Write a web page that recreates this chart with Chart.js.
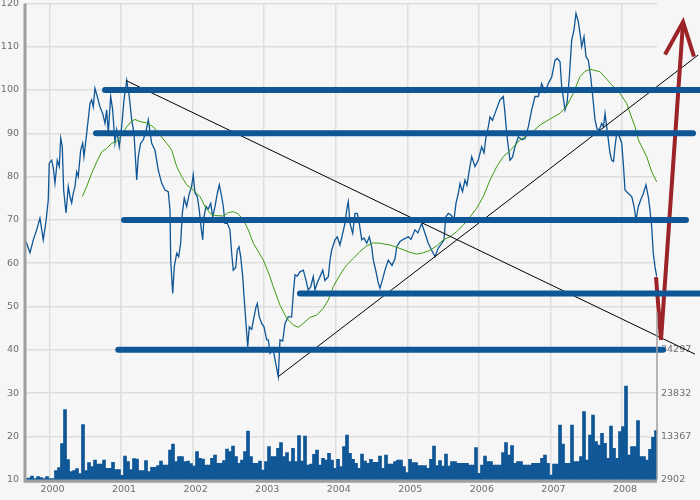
<!DOCTYPE html>
<html>
<head>
<meta charset="utf-8">
<script src="https://cdn.jsdelivr.net/npm/chart.js@4.4.0/dist/chart.umd.min.js"></script>
<style>
  html, body { margin: 0; padding: 0; background: #f6f6f6; }
  canvas { display: block; }
</style>
</head>
<body>
<canvas id="chart" width="700" height="500"></canvas>
<script>
// closing prices (decimal years)
const priceDates = [
  1999.672, 1999.728, 1999.774, 1999.821, 1999.867, 1999.913, 1999.951, 1999.983, 1999.997, 2000.031,
  2000.053, 2000.077, 2000.109, 2000.137, 2000.157, 2000.179, 2000.198, 2000.231, 2000.263, 2000.286,
  2000.310, 2000.333, 2000.356, 2000.380, 2000.402, 2000.436, 2000.464, 2000.482, 2000.520, 2000.566,
  2000.590, 2000.612, 2000.636, 2000.668, 2000.706, 2000.743, 2000.776, 2000.799, 2000.822, 2000.855,
  2000.883, 2000.915, 2000.939, 2000.975, 2001.009, 2001.041, 2001.079, 2001.115, 2001.149, 2001.181,
  2001.219, 2001.241, 2001.274, 2001.311, 2001.348, 2001.381, 2001.428, 2001.474, 2001.520, 2001.568,
  2001.614, 2001.660, 2001.684, 2001.694, 2001.722, 2001.744, 2001.778, 2001.805, 2001.833, 2001.856,
  2001.884, 2001.917, 2001.954, 2001.984, 2002.009, 2002.033, 2002.065, 2002.093, 2002.117, 2002.141,
  2002.159, 2002.187, 2002.219, 2002.253, 2002.281, 2002.313, 2002.345, 2002.373, 2002.406, 2002.429,
  2002.452, 2002.485, 2002.522, 2002.546, 2002.568, 2002.602, 2002.624, 2002.648, 2002.672, 2002.700,
  2002.722, 2002.746, 2002.770, 2002.792, 2002.826, 2002.858, 2002.886, 2002.904, 2002.932, 2002.965,
  2002.997, 2003.035, 2003.058, 2003.081, 2003.127, 2003.161, 2003.197, 2003.221, 2003.259, 2003.291,
  2003.337, 2003.384, 2003.407, 2003.431, 2003.463, 2003.500, 2003.547, 2003.584, 2003.616, 2003.650,
  2003.686, 2003.710, 2003.742, 2003.780, 2003.818, 2003.850, 2003.896, 2003.920, 2003.943, 2003.990,
  2004.022, 2004.059, 2004.097, 2004.129, 2004.153, 2004.175, 2004.199, 2004.237, 2004.269, 2004.301,
  2004.329, 2004.363, 2004.395, 2004.433, 2004.469, 2004.502, 2004.525, 2004.558, 2004.595, 2004.618,
  2004.651, 2004.688, 2004.734, 2004.786, 2004.828, 2004.852, 2004.898, 2004.944, 2005.014, 2005.052,
  2005.107, 2005.149, 2005.201, 2005.247, 2005.293, 2005.341, 2005.387, 2005.433, 2005.481, 2005.513,
  2005.537, 2005.573, 2005.618, 2005.652, 2005.680, 2005.713, 2005.736, 2005.771, 2005.806, 2005.834,
  2005.866, 2005.900, 2005.946, 2005.992, 2006.039, 2006.072, 2006.100, 2006.132, 2006.156, 2006.190,
  2006.225, 2006.258, 2006.295, 2006.341, 2006.365, 2006.389, 2006.411, 2006.435, 2006.470, 2006.505,
  2006.551, 2006.599, 2006.645, 2006.691, 2006.738, 2006.784, 2006.830, 2006.878, 2006.924, 2006.970,
  2007.018, 2007.064, 2007.096, 2007.134, 2007.157, 2007.204, 2007.232, 2007.264, 2007.297, 2007.329,
  2007.357, 2007.389, 2007.413, 2007.437, 2007.469, 2007.497, 2007.529, 2007.563, 2007.591, 2007.623,
  2007.651, 2007.683, 2007.716, 2007.741, 2007.763, 2007.786, 2007.809, 2007.832, 2007.856, 2007.881,
  2007.902, 2007.926, 2007.958, 2007.996, 2008.018, 2008.042, 2008.088, 2008.136, 2008.168, 2008.196,
  2008.228, 2008.261, 2008.298, 2008.335, 2008.367, 2008.391, 2008.415, 2008.437, 2008.461, 2008.485
];
const priceValues = [
  65.0, 62.4, 65.4, 67.7, 70.4, 65.4, 69.6, 74.6, 83.1, 83.8,
  82.0, 78.5, 83.8, 82.3, 88.9, 86.9, 76.9, 71.6, 77.7, 75.4,
  73.9, 76.2, 77.7, 81.1, 80.0, 86.1, 87.7, 84.6, 90.0, 96.9,
  97.7, 96.1, 100.4, 98.5, 96.1, 94.6, 92.3, 95.4, 90.0, 98.5,
  95.4, 87.8, 90.8, 86.9, 91.5, 97.7, 102.2, 98.5, 93.1, 90.0,
  79.2, 84.6, 87.7, 88.5, 90.4, 93.1, 87.7, 86.1, 81.5, 78.5,
  76.9, 76.5, 72.3, 60.7, 53.0, 59.2, 62.3, 61.5, 64.6, 71.5,
  75.0, 73.1, 76.1, 77.5, 80.4, 76.2, 75.4, 72.3, 68.4, 65.4,
  70.7, 73.1, 72.5, 73.8, 70.7, 73.1, 76.1, 78.1, 75.4, 73.1,
  69.2, 69.2, 67.7, 62.3, 58.4, 59.0, 63.0, 63.8, 61.5, 56.9,
  51.5, 46.1, 40.7, 45.3, 44.7, 47.6, 49.9, 50.7, 47.6, 46.1,
  45.3, 42.3, 42.3, 39.2, 40.0, 36.9, 33.8, 42.3, 42.0, 46.1,
  47.6, 47.6, 53.0, 57.3, 57.0, 58.0, 58.4, 56.1, 53.8, 54.5,
  56.9, 53.8, 55.5, 56.9, 58.4, 56.0, 56.9, 60.7, 63.0, 65.4,
  66.1, 64.2, 66.9, 69.2, 72.3, 74.2, 69.2, 66.9, 71.5, 71.5,
  69.2, 65.4, 65.8, 64.6, 66.1, 63.8, 60.7, 58.4, 55.4, 54.2,
  56.1, 58.4, 60.7, 59.5, 61.0, 63.8, 65.0, 65.5, 66.1, 65.5,
  67.7, 67.0, 69.2, 66.9, 64.6, 63.0, 61.5, 63.5, 64.6, 65.4,
  70.7, 71.5, 71.0, 70.0, 73.8, 76.1, 78.4, 76.5, 79.2, 78.0,
  81.5, 84.6, 82.3, 83.8, 86.9, 85.5, 89.2, 91.5, 93.8, 93.0,
  94.6, 96.1, 97.7, 98.5, 94.6, 90.0, 86.9, 83.8, 84.5, 86.9,
  89.2, 88.5, 88.8, 91.5, 95.4, 98.5, 98.5, 101.5, 99.5, 101.5,
  103.0, 106.9, 107.3, 106.5, 100.8, 95.4, 97.0, 103.0, 111.5, 113.8,
  117.7, 115.8, 113.1, 110.0, 112.3, 107.7, 106.9, 103.0, 98.5, 93.1,
  91.0, 90.8, 92.3, 91.5, 94.6, 91.5, 88.5, 85.4, 83.8, 83.5,
  86.9, 90.0, 89.5, 87.7, 83.1, 76.9, 76.1, 75.4, 73.1, 70.0,
  73.1, 74.6, 76.1, 78.1, 75.4, 72.3, 68.4, 62.3, 59.2, 56.9
];

// moving average
const avgDates = [
  2000.458, 2000.520, 2000.590, 2000.660, 2000.729, 2000.799, 2000.869, 2000.939, 2001.009, 2001.079,
  2001.149, 2001.195, 2001.265, 2001.358, 2001.450, 2001.544, 2001.638, 2001.708, 2001.778, 2001.847,
  2001.917, 2002.009, 2002.103, 2002.173, 2002.243, 2002.313, 2002.429, 2002.499, 2002.568, 2002.638,
  2002.708, 2002.778, 2002.848, 2002.918, 2002.988, 2003.072, 2003.127, 2003.221, 2003.315, 2003.407,
  2003.477, 2003.547, 2003.640, 2003.734, 2003.826, 2003.896, 2003.966, 2004.059, 2004.153, 2004.245,
  2004.339, 2004.433, 2004.525, 2004.618, 2004.758, 2004.898, 2005.038, 2005.131, 2005.224, 2005.317,
  2005.411, 2005.503, 2005.597, 2005.690, 2005.783, 2005.876, 2005.970, 2006.062, 2006.156, 2006.249,
  2006.341, 2006.435, 2006.575, 2006.715, 2006.854, 2006.994, 2007.134, 2007.227, 2007.319, 2007.413,
  2007.483, 2007.553, 2007.693, 2007.856, 2007.972, 2008.066, 2008.126, 2008.182, 2008.228, 2008.345,
  2008.415, 2008.485
];
const avgValues = [
  75.4, 77.7, 80.8, 83.4, 85.7, 86.5, 87.7, 88.1, 89.6, 91.5,
  92.8, 93.2, 92.7, 92.4, 91.5, 89.6, 87.7, 86.1, 82.3, 80.0,
  78.1, 76.9, 75.4, 73.1, 71.5, 71.0, 70.9, 71.7, 71.9, 71.4,
  70.0, 67.7, 64.6, 62.7, 60.7, 57.3, 54.6, 50.3, 47.3, 45.7,
  45.2, 46.1, 47.5, 48.0, 49.6, 51.5, 54.6, 57.3, 59.6, 61.1,
  62.7, 64.0, 64.7, 64.6, 64.2, 63.4, 62.5, 62.1, 62.4, 63.0,
  64.0, 65.4, 66.1, 67.3, 68.8, 70.7, 72.7, 75.4, 79.2, 82.3,
  84.6, 86.0, 88.5, 89.8, 91.9, 93.3, 94.6, 96.3, 99.2, 103.1,
  104.3, 104.8, 104.2, 101.2, 99.2, 96.9, 94.0, 91.5, 88.5, 84.6,
  81.1, 78.8
];

// volume, one bar every half month from the first date
const volumeStart = 1999.672;
const volumeStep = 0.04192;
const volumeValues = [
  3144, 3265, 3748, 3144, 3627, 3385, 3144, 3627, 3144, 3144,
  5077, 5802, 11603, 19821, 7736, 4836, 5077, 5561, 4352, 16196,
  5077, 7011, 6044, 7663, 6697, 6697, 7663, 5633, 5633, 7083,
  5319, 5319, 3941, 8630, 7253, 5319, 7978, 7905, 5077, 5077,
  7494, 4836, 5875, 5875, 6286, 7422, 6455, 6455, 10080, 11531,
  7253, 8461, 8461, 7253, 7422, 6769, 6213, 9670, 8050, 7857,
  6455, 6455, 8074, 8872, 6866, 6866, 7494, 10322, 9670, 11047,
  8461, 6866, 7663, 9670, 14673, 8461, 6866, 6866, 7422, 5246,
  7253, 10878, 8461, 8461, 10492, 11845, 8461, 9428, 7253, 10492,
  7253, 13537, 7422, 13464, 6455, 6697, 9041, 10080, 6455, 8074,
  7663, 9283, 7663, 5657, 7833, 6044, 10878, 13706, 9283, 7833,
  6866, 5657, 9114, 7422, 6866, 7833, 7108, 7108, 8630, 5657,
  8872, 6697, 6697, 7253, 7663, 7663, 6044, 4594, 7833, 7011,
  7011, 6286, 6286, 6286, 5657, 7833, 11047, 6286, 7494, 6213,
  9114, 6213, 7253, 7253, 6866, 6866, 6866, 6866, 6455, 6455,
  10636, 4449, 6455, 8630, 7253, 7253, 6455, 6455, 6455, 9428,
  11845, 8872, 11120, 6866, 7253, 7253, 6455, 6455, 6455, 6866,
  6866, 6866, 8074, 8872, 6866, 4038, 6697, 6697, 16123, 11531,
  6866, 6866, 16123, 7253, 7253, 8461, 19338, 7663, 13706, 18540,
  12087, 11289, 14117, 11700, 8074, 15882, 10492, 8074, 14504, 15712,
  25549, 8872, 10878, 10878, 17162, 8461, 8461, 7663, 10250, 13150,
  14745
];

// support / resistance levels
const levelValues = [100, 90, 70, 53, 40];
const levelStart = [2000.776, 2000.650, 2001.041, 2003.500, 2000.961];
const levelEnd = [2009.090, 2008.992, 2008.894, 2009.090, 2008.573];

// trend lines [date, value]
const trendDown = [[2001.069, 102.2], [2009.020, 39.0]];
const trendUp = [[2003.197, 33.8], [2009.066, 108.1]];

// projected move, listed from the arrow tip backwards
const arrowShaft = [[2008.853, 115.7], [2008.545, 42.3], [2008.475, 56.8]];
const arrowHead = [[2009.006, 107.7], [2008.853, 115.7], [2008.601, 108.2]];

const volumeTicks = [2902, 13367, 23832, 34297];
const volumeStepSize = 10465;
const volumeAxisTop = 43400;

const blue = "#0e5696";
const red = "#9c2327";
const axisGrey = "#9e9e9e";
const textGrey = "#6e6e6e";

const toPoints = (pairs) => pairs.map((p) => ({ x: p[0], y: p[1] }));

const priceData = priceDates.map((d, i) => ({ x: d, y: priceValues[i] }));
const avgData = avgDates.map((d, i) => ({ x: d, y: avgValues[i] }));
const volumeData = volumeValues.map((v, i) => ({ x: volumeStart + i * volumeStep, y: v }));

const levelSets = levelValues.map((v, i) => ({
    type: "line",
    data: [{ x: levelStart[i], y: v }, { x: levelEnd[i], y: v }],
    borderColor: blue,
    borderWidth: 6,
    borderCapStyle: "round",
    pointRadius: 0,
    clip: false,
    order: 0,
}));

// axis frame: thick left and bottom lines, short right line for the volume scale
const axisFrame = {
    id: "axisFrame",
    afterDatasetsDraw(chart) {
        const { ctx, chartArea } = chart;
        const y2 = chart.scales.y2;
        ctx.save();
        ctx.strokeStyle = axisGrey;
        ctx.lineWidth = 1.5;
        ctx.beginPath();
        ctx.moveTo(chartArea.right, y2.getPixelForValue(volumeAxisTop));
        ctx.lineTo(chartArea.right, chartArea.bottom);
        ctx.stroke();
        ctx.lineWidth = 3;
        ctx.beginPath();
        ctx.moveTo(chartArea.left, chartArea.top);
        ctx.lineTo(chartArea.left, chartArea.bottom + 1.5);
        ctx.lineTo(chartArea.right, chartArea.bottom + 1.5);
        ctx.stroke();
        ctx.restore();
    },
};

Chart.defaults.font.family = "'DejaVu Sans', sans-serif";
Chart.defaults.font.size = 9.5;
Chart.defaults.color = textGrey;

new Chart(document.getElementById("chart"), {
    type: "line",
    data: {
        datasets: [
            ...levelSets,
            {
                data: toPoints(arrowShaft),
                borderColor: red,
                borderWidth: 4,
                pointRadius: 0,
                clip: false,
                order: 1,
            },
            {
                data: toPoints(arrowHead),
                borderColor: red,
                borderWidth: 4,
                pointRadius: 0,
                clip: false,
                order: 1,
            },
            {
                data: toPoints(trendDown),
                borderColor: "#000000",
                borderWidth: 1,
                pointRadius: 0,
                clip: false,
                order: 2,
            },
            {
                data: toPoints(trendUp),
                borderColor: "#000000",
                borderWidth: 1,
                pointRadius: 0,
                clip: false,
                order: 2,
            },
            {
                data: avgData,
                borderColor: "#3f9a12",
                borderWidth: 1,
                pointRadius: 0,
                order: 3,
            },
            {
                data: priceData,
                borderColor: blue,
                borderWidth: 1.3,
                pointRadius: 0,
                order: 4,
            },
            {
                type: "bar",
                data: volumeData,
                yAxisID: "y2",
                backgroundColor: blue,
                borderWidth: 0,
                barPercentage: 1,
                categoryPercentage: 1,
                order: 5,
            },
        ],
    },
    options: {
        responsive: false,
        animation: false,
        layout: { padding: { top: 3.4, left: 0, right: 0, bottom: 0 } },
        plugins: { legend: { display: false }, tooltip: { enabled: false } },
        scales: {
            x: {
                type: "linear",
                min: 1999.658,
                max: 2008.489,
                offset: false,
                grid: { color: "#dedede", lineWidth: 1.5, drawTicks: false, offset: false },
                border: { display: false },
                ticks: {
                    stepSize: 1,
                    includeBounds: false,
                    padding: 4,
                    labelOffset: 3,
                    maxRotation: 0,
                    callback: (v) => String(v),
                },
                afterFit: (scale) => {
                    scale.height = 20.3;
                    scale.paddingLeft = 0;
                    scale.paddingRight = 0;
                },
            },
            y: {
                min: 10,
                max: 120,
                grid: { color: "#dedede", lineWidth: 1.5, drawTicks: false },
                border: { display: false },
                ticks: { stepSize: 10, padding: 6 },
                afterFit: (scale) => {
                    scale.width = 25;
                    scale.paddingTop = 0;
                    scale.paddingBottom = 0;
                },
            },
            y2: {
                position: "right",
                min: volumeTicks[0],
                max: volumeTicks[0] + 11 * volumeStepSize,
                beginAtZero: false,
                grid: { display: false, drawTicks: false },
                border: { display: false },
                ticks: { padding: 4, callback: (v) => String(v) },
                afterBuildTicks: (scale) => {
                    scale.ticks = volumeTicks.map((v) => ({ value: v }));
                },
                afterFit: (scale) => {
                    scale.width = 43;
                    scale.paddingTop = 0;
                    scale.paddingBottom = 0;
                },
            },
        },
    },
    plugins: [axisFrame],
});
</script>
</body>
</html>
